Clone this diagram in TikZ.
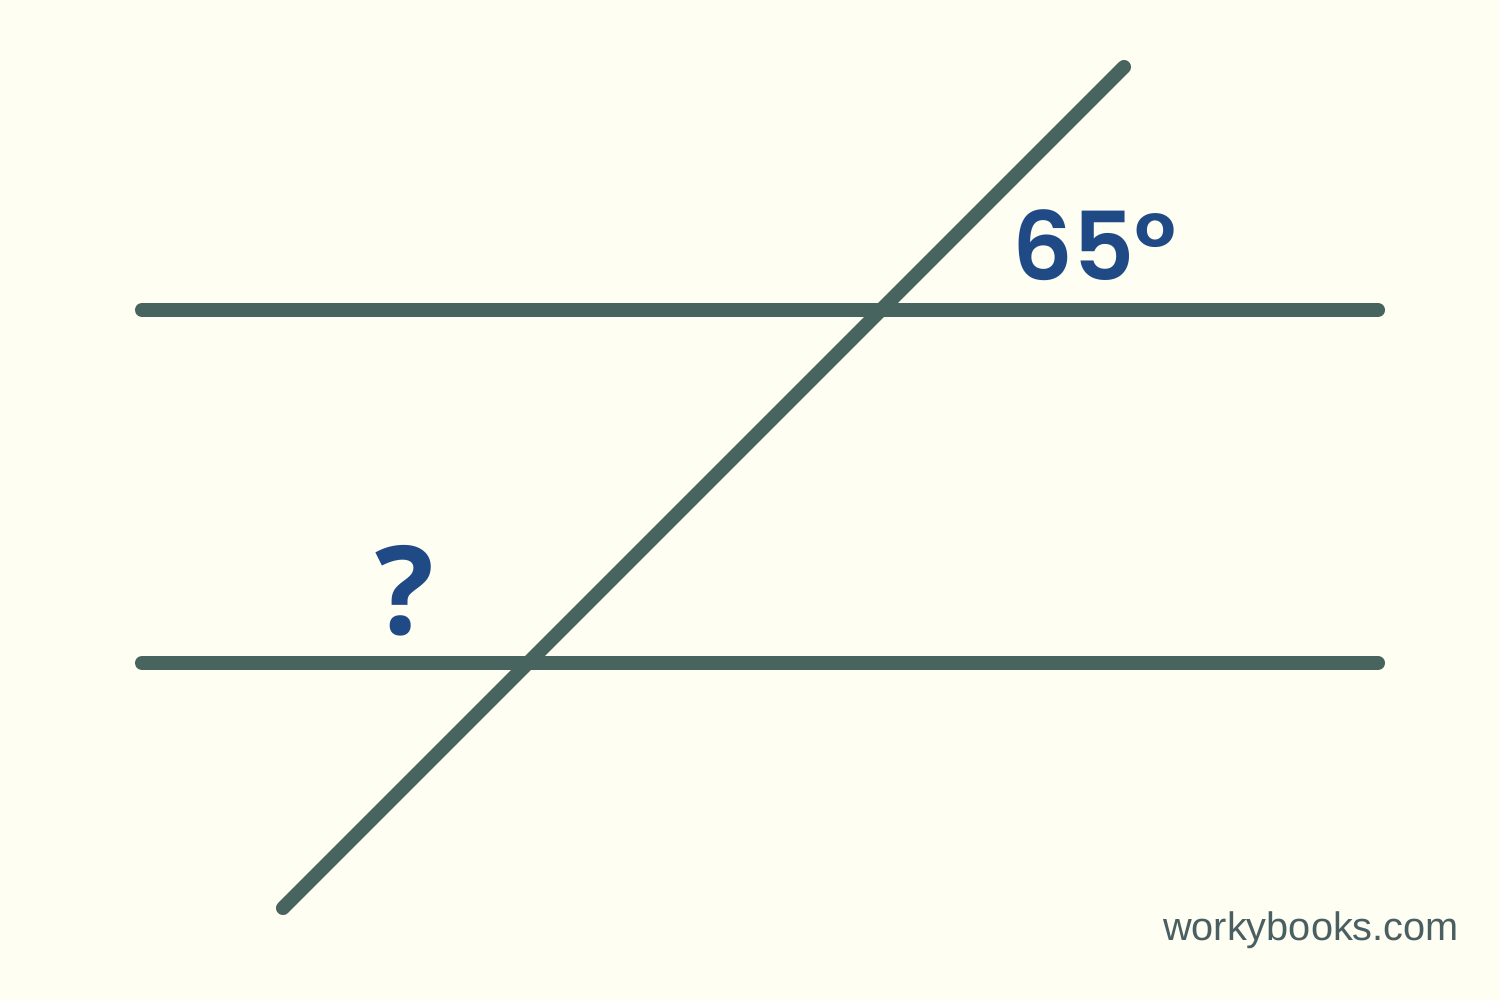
\documentclass[tikz,border=0pt]{standalone}
\usepackage{fontspec}
\newfontfamily\popfont{Poppins SemiBold}
\newfontfamily\qfont{Open Sans}
\newfontfamily\wbfont{Liberation Sans}
\definecolor{bg}{HTML}{FEFEF2}
\definecolor{ln}{HTML}{47645F}
\definecolor{lbl}{HTML}{1F4A85}
\definecolor{wm}{HTML}{4A5F62}
\begin{document}
\begin{tikzpicture}[x=0.01cm,y=-0.01cm,
  lineseg/.style={draw=ln,line width=0.14cm,line cap=round},
  anglelbl/.style={text=lbl,font=\popfont\fontsize{27}{30}\selectfont,inner sep=0pt},
  wmark/.style={text=wm,font=\wbfont\fontsize{11.3}{13}\selectfont,inner sep=0pt}]
\fill[bg] (0,0) rectangle (1500,1000);
\useasboundingbox (0,0) rectangle (1500,1000);
\coordinate (t1) at (142,310);
\coordinate (t2) at (1378,310);
\coordinate (b1) at (142,663);
\coordinate (b2) at (1378,663);
\coordinate (s1) at (283,908);
\coordinate (s2) at (1124,67);
\draw[lineseg] (t1) -- (t2);
\draw[lineseg] (b1) -- (b2);
\draw[lineseg] (s1) -- (s2);
\node[anglelbl] (a) at (1095,245) {65°};
\node[anglelbl,font=\qfont\bfseries\fontsize{35}{38}\selectfont] (q) at (405,591) {?};
\node[wmark] (w) at (1311,930) {workybooks.com};
\end{tikzpicture}
\end{document}
